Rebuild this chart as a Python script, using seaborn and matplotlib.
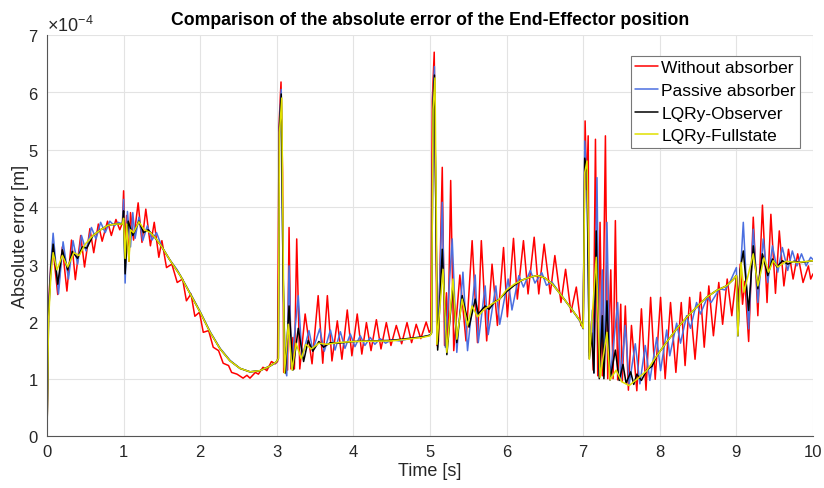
import matplotlib
matplotlib.use("Agg")
import matplotlib.pyplot as plt
import seaborn as sns
import pandas as pd
from matplotlib.ticker import ScalarFormatter

# ---------------- data (values in units of 1e-4 m) ----------------
series_names = ["Without absorber", "Passive absorber", "LQRy-Observer", "LQRy-Fullstate"]
SCALE = 1e-4

t_red = [0, 0.02, 0.05, 0.08, 0.14, 0.20, 0.26, 0.32, 0.37, 0.44, 0.49, 0.56, 0.61, 0.67, 0.72, 0.79, 0.84,
         0.90, 0.95, 0.985, 1.00, 1.02, 1.04, 1.07, 1.09, 1.13, 1.19, 1.24, 1.29, 1.35, 1.40, 1.46, 1.50,
         1.56, 1.63, 1.70, 1.77, 1.82, 1.88, 1.93, 1.99, 2.04, 2.11, 2.17, 2.24, 2.30, 2.37, 2.41, 2.48,
         2.56, 2.61, 2.65, 2.72, 2.76, 2.82, 2.87, 2.93, 2.98, 3.01, 3.03, 3.055, 3.075, 3.09, 3.12, 3.14,
         3.16, 3.185, 3.21, 3.23, 3.26, 3.30, 3.37, 3.46, 3.54, 3.60, 3.66, 3.72, 3.79, 3.85, 3.92, 3.98,
         4.05, 4.11, 4.17, 4.23, 4.30, 4.36, 4.43, 4.49, 4.56, 4.63, 4.70, 4.76, 4.82, 4.88, 4.95, 4.99,
         5.01, 5.03, 5.055, 5.075, 5.09, 5.11, 5.16, 5.19, 5.215, 5.235, 5.27, 5.31, 5.39, 5.47, 5.55, 5.62,
         5.67, 5.74, 5.81, 5.88, 5.96, 6.01, 6.09, 6.14, 6.22, 6.28, 6.36, 6.42, 6.49, 6.57, 6.63, 6.71,
         6.77, 6.84, 6.91, 6.97, 7.00, 7.025, 7.045, 7.065, 7.08, 7.11, 7.13, 7.16, 7.19, 7.22, 7.25, 7.29,
         7.32, 7.36, 7.39, 7.42, 7.45, 7.49, 7.51, 7.55, 7.59, 7.63, 7.70, 7.76, 7.82, 7.88, 7.94, 8.01,
         8.07, 8.14, 8.21, 8.28, 8.33, 8.39, 8.46, 8.53, 8.58, 8.64, 8.70, 8.77, 8.82, 8.88, 8.94, 9.00,
         9.03, 9.05, 9.08, 9.11, 9.16, 9.22, 9.28, 9.34, 9.40, 9.45, 9.51, 9.56, 9.62, 9.68, 9.74, 9.80,
         9.87, 9.94, 9.97, 10.00]
v_red = [0, 2.30, 3.00, 3.25, 2.47, 3.30, 2.53, 3.42, 2.73, 3.50, 2.95, 3.62, 3.20, 3.70, 3.40, 3.75, 3.50,
         3.78, 3.60, 3.72, 4.28, 3.30, 3.85, 3.05, 3.90, 3.42, 4.07, 3.38, 3.96, 3.32, 3.73, 3.12, 3.41,
         2.94, 3.00, 2.68, 2.74, 2.36, 2.48, 2.09, 2.16, 1.81, 1.84, 1.55, 1.49, 1.27, 1.23, 1.11, 1.08,
         1.01, 1.06, 1.01, 1.11, 1.08, 1.20, 1.14, 1.30, 1.26, 1.30, 5.45, 6.18, 4.60, 1.11, 1.45, 1.15,
         3.64, 1.17, 1.72, 1.17, 3.44, 1.17, 2.13, 1.26, 2.45, 1.27, 2.45, 1.31, 2.01, 1.34, 2.20, 1.40,
         2.13, 1.43, 1.98, 1.49, 2.03, 1.52, 1.98, 1.58, 1.93, 1.61, 1.98, 1.63, 1.95, 1.70, 1.99, 1.81,
         1.85, 5.85, 6.70, 4.20, 1.58, 1.65, 4.69, 1.58, 2.50, 1.65, 4.46, 1.49, 2.81, 1.66, 3.41, 1.63,
         3.41, 1.66, 3.00, 1.93, 3.29, 2.08, 3.45, 2.39, 3.41, 2.48, 3.47, 2.48, 3.35, 2.48, 3.15, 2.33,
         2.91, 2.16, 2.60, 1.93, 1.95, 5.50, 4.30, 5.24, 1.46, 2.00, 1.15, 5.18, 1.05, 3.73, 1.05, 5.24,
         1.00, 2.90, 1.00, 3.76, 0.98, 2.30, 0.95, 2.27, 0.80, 1.93, 0.79, 2.22, 0.80, 2.42, 0.99, 2.42,
         1.00, 2.33, 1.11, 2.33, 1.23, 2.42, 1.34, 2.51, 1.55, 2.62, 1.75, 2.68, 1.95, 2.74, 2.10, 2.80,
         2.35, 3.00, 2.30, 2.70, 1.65, 3.82, 2.10, 4.03, 2.33, 3.87, 2.49, 3.58, 2.62, 3.26, 2.74, 3.18,
         2.68, 2.97, 2.74, 2.83]

t_blue = [0, 0.02, 0.05, 0.08, 0.15, 0.21, 0.28, 0.34, 0.40, 0.45, 0.51, 0.58, 0.64, 0.70, 0.76, 0.82, 0.88,
          0.93, 0.985, 1.00, 1.02, 1.05, 1.09, 1.12, 1.15, 1.20, 1.25, 1.31, 1.37, 1.43, 1.50, 1.60, 1.70,
          1.80, 1.90, 2.00, 2.13, 2.26, 2.39, 2.52, 2.65, 2.78, 2.91, 2.99, 3.02, 3.035, 3.058, 3.08, 3.10,
          3.13, 3.16, 3.19, 3.28, 3.33, 3.42, 3.47, 3.56, 3.62, 3.70, 3.76, 3.83, 3.89, 3.96, 4.02, 4.09,
          4.15, 4.22, 4.28, 4.35, 4.42, 4.50, 4.60, 4.70, 4.80, 4.90, 5.00, 5.02, 5.04, 5.058, 5.08, 5.10,
          5.16, 5.20, 5.29, 5.35, 5.43, 5.49, 5.59, 5.63, 5.72, 5.76, 5.86, 5.91, 6.02, 6.07, 6.16, 6.22,
          6.31, 6.37, 6.46, 6.52, 6.59, 6.70, 6.83, 6.96, 7.00, 7.02, 7.05, 7.08, 7.12, 7.14, 7.18, 7.21,
          7.25, 7.27, 7.31, 7.35, 7.45, 7.49, 7.55, 7.60, 7.68, 7.74, 7.81, 7.87, 7.96, 8.01, 8.09, 8.13,
          8.22, 8.27, 8.35, 8.40, 8.48, 8.53, 8.62, 8.67, 8.78, 8.85, 8.92, 9.00, 9.02, 9.05, 9.09, 9.16,
          9.22, 9.28, 9.35, 9.41, 9.47, 9.54, 9.60, 9.67, 9.73, 9.79, 9.85, 9.91, 9.97, 10.00]
v_blue = [0, 2.20, 3.00, 3.54, 2.48, 3.39, 2.74, 3.41, 3.00, 3.50, 3.23, 3.64, 3.44, 3.73, 3.55, 3.75, 3.67,
          3.73, 3.70, 4.13, 2.67, 3.92, 3.30, 3.90, 3.45, 3.82, 3.41, 3.67, 3.42, 3.55, 3.30, 3.08, 2.90,
          2.66, 2.42, 2.17, 1.82, 1.53, 1.32, 1.18, 1.12, 1.14, 1.22, 1.28, 1.35, 5.50, 6.05, 3.00, 1.20,
          1.05, 2.97, 1.20, 2.45, 1.37, 1.84, 1.50, 1.87, 1.48, 1.85, 1.50, 1.82, 1.53, 1.78, 1.56, 1.75,
          1.58, 1.72, 1.60, 1.70, 1.62, 1.68, 1.66, 1.69, 1.71, 1.73, 1.76, 1.80, 5.90, 6.45, 3.50, 1.55,
          4.08, 1.55, 3.44, 1.46, 2.86, 1.49, 2.81, 1.63, 2.62, 1.77, 2.62, 1.95, 2.74, 2.20, 2.80, 2.60,
          2.89, 2.67, 2.85, 2.63, 2.69, 2.48, 2.25, 2.00, 1.87, 5.15, 4.40, 1.40, 2.20, 1.10, 4.51, 1.05,
          2.90, 1.05, 3.73, 0.98, 2.33, 0.97, 1.93, 0.90, 1.61, 0.91, 1.58, 0.97, 1.72, 1.14, 1.85, 1.40,
          1.97, 1.62, 2.10, 1.88, 2.33, 2.13, 2.42, 2.33, 2.57, 2.55, 2.70, 2.94, 1.75, 2.80, 3.73, 1.87,
          3.61, 2.33, 3.44, 2.68, 3.32, 2.86, 3.29, 2.89, 3.23, 2.97, 3.18, 2.97, 3.12, 3.08]

t_black = [0, 0.02, 0.05, 0.08, 0.14, 0.20, 0.27, 0.33, 0.40, 0.46, 0.52, 0.60, 0.70, 0.80, 0.90, 0.985, 1.00,
           1.02, 1.06, 1.12, 1.20, 1.26, 1.32, 1.40, 1.50, 1.61, 1.74, 1.87, 2.00, 2.13, 2.26, 2.39, 2.52,
           2.65, 2.78, 2.91, 2.99, 3.02, 3.035, 3.058, 3.08, 3.11, 3.16, 3.21, 3.28, 3.35, 3.41, 3.47, 3.55,
           3.61, 3.70, 3.80, 4.00, 4.50, 4.90, 5.00, 5.02, 5.04, 5.058, 5.08, 5.10, 5.16, 5.22, 5.30, 5.35,
           5.42, 5.51, 5.59, 5.63, 5.72, 5.77, 5.85, 5.90, 6.00, 6.10, 6.20, 6.30, 6.40, 6.50, 6.60, 6.70,
           6.83, 6.96, 7.00, 7.02, 7.05, 7.08, 7.11, 7.14, 7.17, 7.21, 7.25, 7.27, 7.31, 7.35, 7.42, 7.47,
           7.52, 7.56, 7.62, 7.66, 7.70, 7.76, 7.83, 7.90, 7.96, 8.09, 8.22, 8.35, 8.48, 8.61, 8.74, 8.87,
           8.95, 9.00, 9.02, 9.05, 9.09, 9.16, 9.22, 9.28, 9.34, 9.41, 9.47, 9.53, 9.60, 9.67, 9.75, 9.85,
           10.00]
v_black = [0, 2.10, 2.90, 3.35, 2.65, 3.25, 2.90, 3.22, 3.10, 3.30, 3.28, 3.50, 3.60, 3.68, 3.70, 3.70, 3.93,
           2.83, 3.75, 3.50, 3.75, 3.55, 3.60, 3.48, 3.30, 3.06, 2.80, 2.48, 2.16, 1.81, 1.52, 1.31, 1.18,
           1.12, 1.14, 1.22, 1.29, 1.35, 5.40, 5.97, 3.00, 1.10, 2.27, 1.15, 1.88, 1.30, 1.67, 1.48, 1.65,
           1.55, 1.63, 1.62, 1.65, 1.67, 1.73, 1.76, 1.80, 5.80, 6.30, 3.50, 1.50, 3.26, 1.42, 2.65, 1.63,
           2.45, 1.90, 2.39, 2.13, 2.27, 2.21, 2.35, 2.38, 2.52, 2.63, 2.72, 2.77, 2.80, 2.76, 2.65, 2.48,
           2.25, 2.01, 1.88, 4.85, 4.60, 1.35, 1.80, 1.10, 3.58, 1.00, 2.10, 1.00, 2.36, 0.98, 1.50, 0.97,
           1.25, 0.92, 1.12, 0.90, 1.08, 0.97, 1.15, 1.22, 1.40, 1.64, 1.87, 2.07, 2.25, 2.42, 2.54, 2.62,
           2.72, 2.80, 1.75, 2.90, 3.23, 2.19, 3.32, 2.57, 3.18, 2.80, 3.09, 2.95, 3.06, 3.00, 3.05, 3.03,
           3.06]

t_yellow = [0, 0.02, 0.05, 0.08, 0.13, 0.20, 0.27, 0.35, 0.42, 0.50, 0.60, 0.70, 0.80, 0.90, 0.985, 1.00,
            1.02, 1.04, 1.07, 1.09, 1.13, 1.20, 1.27, 1.35, 1.42, 1.50, 1.61, 1.74, 1.87, 2.00, 2.13, 2.26,
            2.39, 2.52, 2.65, 2.78, 2.91, 2.99, 3.02, 3.035, 3.065, 3.085, 3.10, 3.15, 3.20, 3.25, 3.32,
            3.38, 3.45, 3.55, 3.65, 3.80, 4.00, 4.50, 4.90, 5.00, 5.02, 5.04, 5.065, 5.085, 5.09, 5.17,
            5.22, 5.30, 5.35, 5.42, 5.49, 5.55, 5.62, 5.70, 5.80, 5.90, 6.00, 6.10, 6.20, 6.30, 6.40, 6.50,
            6.60, 6.70, 6.83, 6.96, 7.00, 7.02, 7.05, 7.075, 7.08, 7.17, 7.22, 7.31, 7.35, 7.43, 7.50, 7.60,
            7.70, 7.83, 7.96, 8.09, 8.22, 8.35, 8.48, 8.61, 8.74, 8.87, 8.95, 9.00, 9.02, 9.06, 9.10, 9.22,
            9.28, 9.36, 9.42, 9.48, 9.54, 9.65, 9.80, 10.00]
v_yellow = [0, 2.00, 2.80, 3.20, 2.90, 3.15, 2.95, 3.20, 3.15, 3.35, 3.50, 3.60, 3.68, 3.70, 3.70, 3.80,
            3.10, 3.70, 3.05, 3.60, 3.55, 3.74, 3.60, 3.55, 3.45, 3.30, 3.06, 2.80, 2.48, 2.16, 1.81, 1.52,
            1.31, 1.18, 1.12, 1.14, 1.22, 1.29, 1.35, 5.30, 5.90, 3.00, 1.10, 1.95, 1.15, 1.62, 1.35,
            1.60, 1.52, 1.62, 1.60, 1.63, 1.65, 1.66, 1.72, 1.75, 1.80, 5.70, 6.25, 3.50, 1.60, 2.91,
            1.46, 2.74, 1.69, 2.39, 1.93, 2.27, 2.08, 2.20, 2.30, 2.38, 2.55, 2.65, 2.72, 2.77, 2.80, 2.76,
            2.65, 2.48, 2.25, 2.01, 1.88, 4.60, 4.80, 3.00, 1.34, 3.12, 1.02, 1.81, 0.98, 1.15, 0.95, 0.88,
            0.99, 1.14, 1.40, 1.64, 1.87, 2.07, 2.25, 2.42, 2.54, 2.62, 2.72, 2.80, 1.75, 3.03, 2.51, 3.18,
            2.62, 3.11, 2.86, 3.06, 2.95, 3.05, 3.03, 3.06]

x_ticks = list(range(0, 11))
y_ticks = [0, 1, 2, 3, 4, 5, 6, 7]

# ---------------- styling ----------------
sns.set_theme(style="white")
plt.rcParams["font.family"] = ["Liberation Sans", "DejaVu Sans"]
plt.rcParams["mathtext.fontset"] = "custom"
plt.rcParams["mathtext.rm"] = "Liberation Sans"
plt.rcParams["mathtext.it"] = "Liberation Sans:italic"
plt.rcParams["axes.unicode_minus"] = False

colors = ["#ff0000", "#4b6fe0", "#000000", "#e0e000"]
TXT = "#262626"

fig = plt.figure(figsize=(8.24, 4.89), dpi=100)
ax = fig.add_axes([47 / 824, 1 - 437 / 489, 766 / 824, 401 / 489])

all_t = [t_red, t_blue, t_black, t_yellow]
all_v = [v_red, v_blue, v_black, v_yellow]
for name, tt, vv, c in zip(series_names, all_t, all_v, colors):
    df = pd.DataFrame({"t": tt, "v": [x * SCALE for x in vv]})
    sns.lineplot(data=df, x="t", y="v", ax=ax, color=c, lw=1.1, label=name,
                 estimator=None, sort=False)

ax.set_xlim(0, 10)
ax.set_ylim(0, 7 * SCALE)
ax.set_xticks(x_ticks)
ax.set_yticks([y * SCALE for y in y_ticks])
fmt = ScalarFormatter(useMathText=True)
fmt.set_powerlimits((0, 0))
ax.yaxis.set_major_formatter(fmt)

ax.grid(True, color="#e3e3e3", lw=0.8)
ax.set_axisbelow(True)
for s in ["top", "right"]:
    ax.spines[s].set_visible(False)
for s in ["left", "bottom"]:
    ax.spines[s].set_color("#555555")
    ax.spines[s].set_linewidth(0.8)
ax.tick_params(direction="in", length=4, width=0.8, color="#555555",
               labelsize=12, labelcolor=TXT, pad=6)
ax.yaxis.get_offset_text().set_fontsize(13)
ax.yaxis.get_offset_text().set_color(TXT)

ax.set_xlabel("Time [s]", fontsize=13, color=TXT, labelpad=2)
ax.set_ylabel("Absolute error [m]", fontsize=13, color=TXT, labelpad=-1)
ax.set_title("Comparison of the absolute error of the End-Effector position",
             fontsize=12.7, fontweight="bold", color="#000000", pad=8)

leg = ax.legend(loc="upper right", bbox_to_anchor=(0.983, 0.948), borderaxespad=0,
                fontsize=12.5, frameon=True, fancybox=False, framealpha=1,
                edgecolor="#777777", handlelength=1.3, handletextpad=0.2,
                labelspacing=0.43, borderpad=0.25)
leg.get_frame().set_linewidth(0.8)
for txt in leg.get_texts():
    txt.set_color("#000000")

fig.savefig("out.png", dpi=100)
